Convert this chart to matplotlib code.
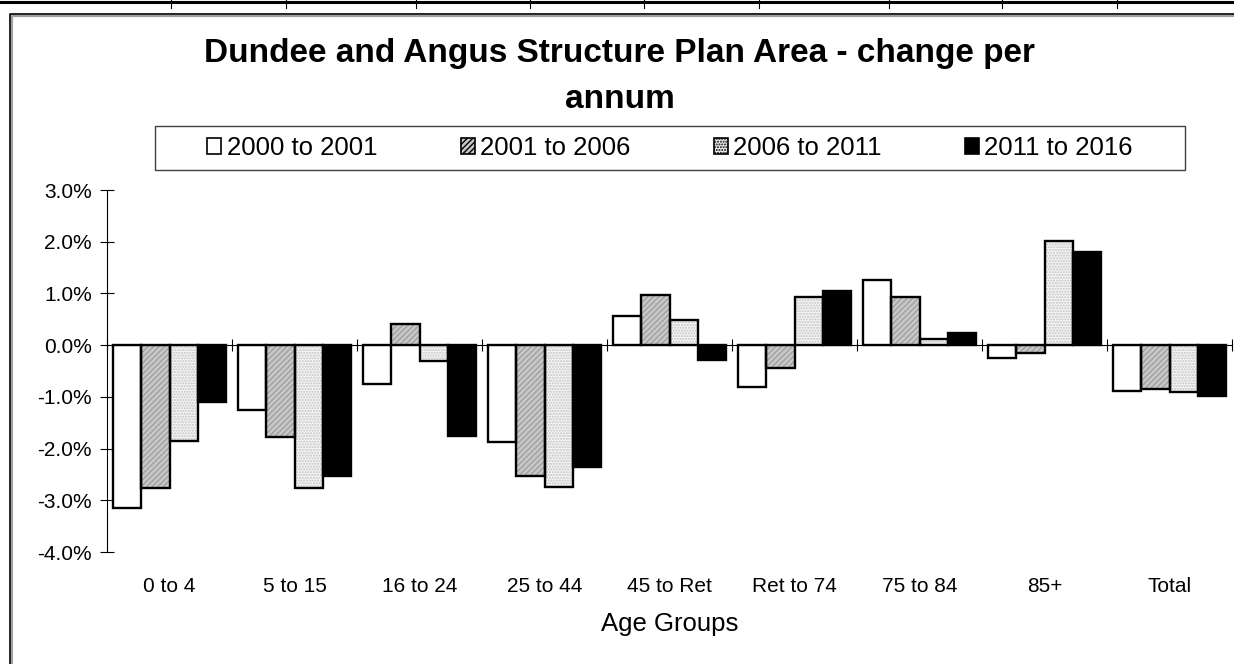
import matplotlib
matplotlib.use("Agg")
import matplotlib.pyplot as plt
import numpy as np
from matplotlib.patches import Patch, Rectangle
from matplotlib.lines import Line2D
import matplotlib.transforms as mtransforms

plt.rcParams['font.family'] = ['Liberation Sans', 'DejaVu Sans']

categories = ["0 to 4", "5 to 15", "16 to 24", "25 to 44", "45 to Ret",
              "Ret to 74", "75 to 84", "85+", "Total"]
series_names = ["2000 to 2001", "2001 to 2006", "2006 to 2011", "2011 to 2016"]
s2000_2001 = [-3.15, -1.26, -0.76, -1.88, 0.57, -0.81, 1.26, -0.24, -0.88]
s2001_2006 = [-2.76, -1.77, 0.41, -2.53, 0.96, -0.44, 0.93, -0.16, -0.85]
s2006_2011 = [-1.86, -2.77, -0.31, -2.74, 0.49, 0.93, 0.12, 2.02, -0.90]
s2011_2016 = [-1.10, -2.53, -1.76, -2.35, -0.29, 1.04, 0.23, 1.81, -0.99]
y_ticks = [3.0, 2.0, 1.0, 0.0, -1.0, -2.0, -3.0, -4.0]
title_lines = ["Dundee and Angus Structure Plan Area - change per", "annum"]
x_label = "Age Groups"

W, H = 1234, 664
fig = plt.figure(figsize=(W / 100, H / 100), dpi=100)
fig.patch.set_facecolor("white")

ax_l, ax_r, ax_t, ax_b = 107, 1232, 190, 552
ax = fig.add_axes([ax_l / W, 1 - ax_b / H, (ax_r - ax_l) / W, (ax_b - ax_t) / H])
ax.set_facecolor("white")

data = [s2000_2001, s2001_2006, s2006_2011, s2011_2016]
styles = [
    dict(fc="white", hatch=None, hc=None),
    dict(fc="#c8c8c8", hatch="//////", hc="#a0a0a0"),
    dict(fc="#f4f4f4", hatch="......", hc="#c4c4c4"),
    dict(fc="black", hatch=None, hc=None),
]
x = np.arange(len(categories))
bw = 0.9 / 4
for i, (vals, st) in enumerate(zip(data, styles)):
    pos = x + (i - 1.5) * bw
    if st["hatch"]:
        ax.bar(pos, vals, width=bw, color=st["fc"], edgecolor=st["hc"],
               hatch=st["hatch"], linewidth=0, zorder=2)
        ax.bar(pos, vals, width=bw, fill=False, edgecolor="black",
               linewidth=1.7, zorder=3)
    else:
        ax.bar(pos, vals, width=bw, color=st["fc"], edgecolor="black",
               linewidth=1.7, zorder=3)

ax.set_xlim(-0.5, len(categories) - 0.5)
ax.set_ylim(-4.0, 3.0)
ax.set_yticks(y_ticks)
ax.set_yticklabels([f"{v:.1f}%" for v in y_ticks], fontsize=15)
ax.tick_params(axis="y", direction="inout", length=10, width=0.8, pad=6)

ax.spines["top"].set_visible(False)
ax.spines["right"].set_visible(False)
ax.spines["left"].set_linewidth(0.8)
ax.spines["bottom"].set_position(("data", 0))
ax.spines["bottom"].set_linewidth(0.8)
ax.spines["bottom"].set_zorder(4)
ax.set_xticks(np.arange(len(categories) + 1) - 0.5)
ax.set_xticklabels([])
ax.tick_params(axis="x", direction="inout", length=9, width=0.8)

trans = mtransforms.blended_transform_factory(ax.transData, ax.transAxes)
for xi, lab in zip(x, categories):
    ax.text(xi, -34 / (ax_b - ax_t), lab, transform=trans, ha="center",
            va="center", fontsize=15)
ax.text(0.5, -72 / (ax_b - ax_t), x_label, transform=ax.transAxes,
        ha="center", va="center", fontsize=18.5)

for line, base in zip(title_lines, [62, 108]):
    fig.text(620 / W, 1 - base / H, line, ha="center", va="baseline",
             fontsize=24, fontweight="bold")

# legend frame
lx0, lx1, ly0, ly1 = 155, 1185, 126, 170
fig.patches.append(Rectangle((lx0 / W, 1 - ly1 / H), (lx1 - lx0) / W,
                             (ly1 - ly0) / H, transform=fig.transFigure,
                             facecolor="white", edgecolor="#404040",
                             linewidth=1.0, zorder=5))
handles = []
for st in styles:
    handles.append(Patch(facecolor=st["fc"], edgecolor="black", linewidth=1.2,
                         hatch=st["hatch"]))
leg = fig.legend(handles, series_names, loc="center",
                 bbox_to_anchor=((lx0 + lx1) / 2 / W, 1 - (ly0 + ly1) / 2 / H),
                 ncol=4, frameon=False, fontsize=18.5, handlelength=0.55,
                 handleheight=0.55, handletextpad=0.2, columnspacing=3.25)
leg.set_zorder(6)

# chart frame and sheet gridlines
fig.add_artist(Line2D([12 / W, 12 / W, 1], [0, 1 - 16 / H, 1 - 16 / H],
                      color="#a0a0a0", linewidth=1.5, transform=fig.transFigure))
fig.add_artist(Line2D([10 / W, 10 / W, 1], [0, 1 - 14 / H, 1 - 14 / H],
                      color="black", linewidth=1.2, transform=fig.transFigure))
fig.add_artist(Line2D([0, 1], [1 - 1.5 / H, 1 - 1.5 / H], color="black",
                      linewidth=2.2, transform=fig.transFigure))
for cx in [171, 286, 416, 530, 644, 759, 889, 1002, 1117]:
    fig.add_artist(Line2D([cx / W, cx / W], [1 - 8 / H, 1], color="black",
                          linewidth=0.8, transform=fig.transFigure))

fig.savefig("out.png", dpi=100, facecolor="white")
